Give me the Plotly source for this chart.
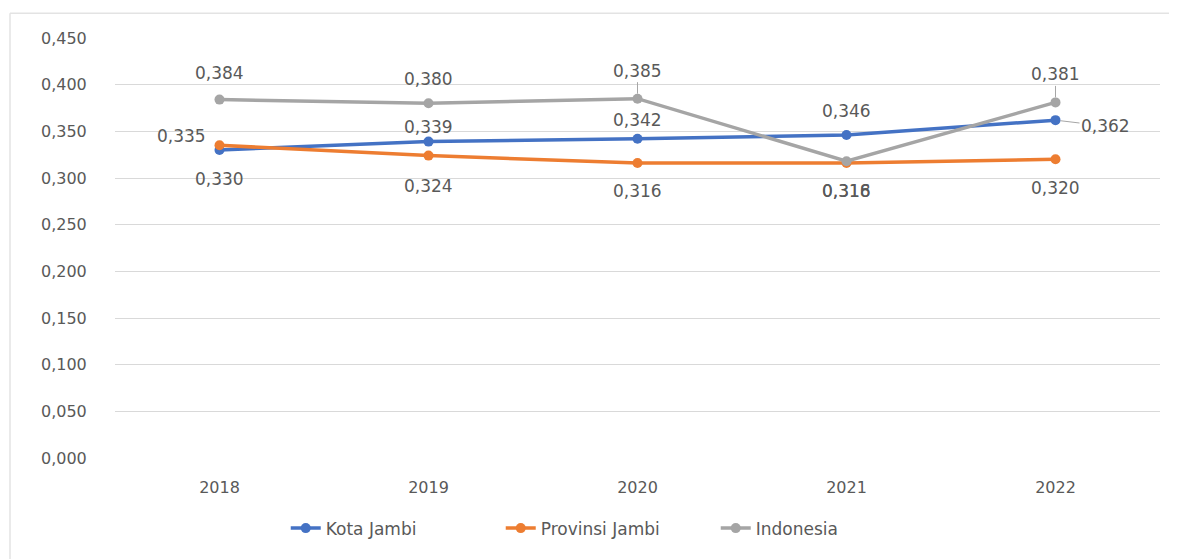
import plotly.graph_objects as go

years = ["2018", "2019", "2020", "2021", "2022"]
kota_jambi = [0.330, 0.339, 0.342, 0.346, 0.362]
provinsi_jambi = [0.335, 0.324, 0.316, 0.316, 0.320]
indonesia = [0.384, 0.380, 0.385, 0.318, 0.381]
y_ticks = [0.0, 0.05, 0.10, 0.15, 0.20, 0.25, 0.30, 0.35, 0.40, 0.45]

series = [
    ("Kota Jambi", kota_jambi, "#4472C4"),
    ("Provinsi Jambi", provinsi_jambi, "#ED7D31"),
    ("Indonesia", indonesia, "#A5A5A5"),
]

# label placement per series per point: (xshift, yshift, leader)
placements = {
    "Kota Jambi": [(0, -29, False), (0, 15, False), (0, 19, False), (0, 24, False), (50, -6, True)],
    "Provinsi Jambi": [(-38, 9, False), (0, -30, False), (0, -28, False), (0, -28, False), (0, -29, False)],
    "Indonesia": [(0, 27, False), (0, 24, False), (0, 28, True), (0, -30, False), (0, 28, True)],
}

FONT = "DejaVu Sans"
LABEL_COLOR = "#595959"

fig = go.Figure()
for name, vals, color in series:
    fig.add_trace(go.Scatter(
        x=years, y=vals, name=name, mode="lines+markers",
        line=dict(color=color, width=3.5),
        marker=dict(color=color, size=10),
        hoverinfo="skip",
    ))

annotations = []
for name, vals, color in series:
    for i, v in enumerate(vals):
        xs, ys, leader = placements[name][i]
        txt = f"{v:.3f}".replace(".", ",")
        if leader:
            annotations.append(dict(
                x=i, y=v, xref="x", yref="y", text=txt,
                showarrow=True, arrowhead=0, arrowwidth=1, arrowcolor="#A6A6A6",
                ax=xs, ay=-ys, standoff=5,
                font=dict(size=17, color=LABEL_COLOR, family=FONT),
            ))
        else:
            annotations.append(dict(
                x=i, y=v, xref="x", yref="y", text=txt, showarrow=False,
                xshift=xs, yshift=ys,
                font=dict(size=17, color=LABEL_COLOR, family=FONT),
            ))

# page has an 8px body margin
W, H = 1169, 551
PL, PR, PT, PB = 107, 17, 30, 98
PW, PH = W - PL - PR, H - PT - PB
shapes = [
    dict(type="line", xref="paper", yref="paper",
         x0=(2 - PL) / PW, x1=(W + 20 - PL) / PW,
         y0=(H - PB - 5) / PH, y1=(H - PB - 5) / PH,
         line=dict(color="#E3E3E3", width=1.5)),
    dict(type="line", xref="paper", yref="paper",
         x0=(2 - PL) / PW, x1=(2 - PL) / PW,
         y0=(H - PB - 5) / PH, y1=(H - PB - H - 5) / PH,
         line=dict(color="#E3E3E3", width=1.5)),
]

fig.update_layout(
    width=W, height=H,
    margin=dict(l=PL, r=PR, t=PT, b=PB),
    paper_bgcolor="white", plot_bgcolor="white",
    separators=",.",
    font=dict(family=FONT, color=LABEL_COLOR, size=14),
    showlegend=True,
    legend=dict(orientation="h", x=0.472, xanchor="center", y=-0.168, yanchor="middle",
                font=dict(size=17, color=LABEL_COLOR, family=FONT), traceorder="normal",
                entrywidth=170, entrywidthmode="pixels"),
    annotations=annotations,
    shapes=shapes,
    xaxis=dict(
        type="category", range=[-0.5, 4.5], showgrid=False, zeroline=False, showline=False,
        ticks="outside", ticklen=15, tickcolor="rgba(0,0,0,0)",
        tickfont=dict(size=16, color=LABEL_COLOR, family=FONT),
    ),
    yaxis=dict(
        range=[0, 0.45], tickvals=y_ticks, tickformat=".3f",
        showgrid=True, gridcolor="#D9D9D9", gridwidth=1,
        zeroline=False, showline=False,
        ticks="outside", ticklen=24, tickcolor="rgba(0,0,0,0)",
        tickfont=dict(size=16, color=LABEL_COLOR, family=FONT),
    ),
)

fig.write_html("out.html")
